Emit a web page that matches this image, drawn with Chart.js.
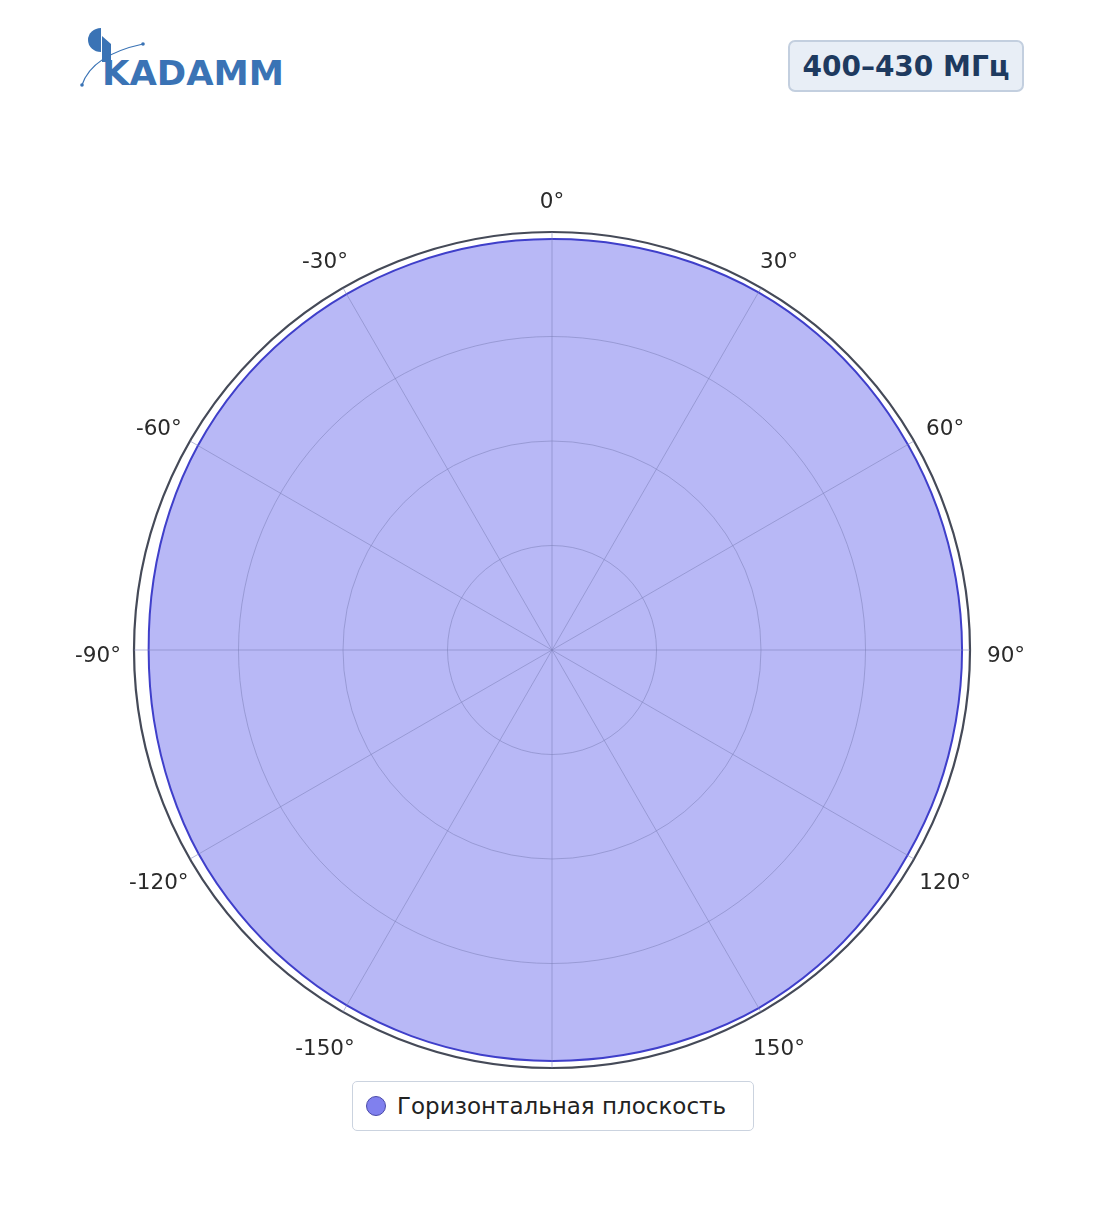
<!DOCTYPE html>
<html lang="ru">
<head>
<meta charset="utf-8">
<title>Диаграмма направленности 400–430 МГц</title>
<script src="https://cdn.jsdelivr.net/npm/chart.js@4.4.1/dist/chart.umd.min.js"></script>
<style>
  html, body { margin: 0; padding: 0; background: #fff; }
  body { width: 1104px; height: 1211px; position: relative; overflow: hidden; font-family: "DejaVu Sans", sans-serif; }
  #chart { position: absolute; left: 0; top: 0; }
  .logo { position: absolute; left: 0; top: 0; }
  .badge {
    position: absolute; left: 788px; top: 40px; width: 232px; height: 48px;
    border: 2px solid #c3cfdf; border-radius: 7px; background: #e8eef6;
    color: #1e3a5f; font-weight: bold; font-size: 28px;
    display: flex; align-items: center; justify-content: center;
  }
  .legend {
    position: absolute; left: 352px; top: 1081px; width: 400px; height: 48px;
    border: 1.5px solid #cbd3df; border-radius: 5px; background: #fff;
    display: flex; align-items: center; color: #222; font-size: 23px;
  }
  .legend .mark {
    width: 18px; height: 18px; border-radius: 50%; background: #8080ee;
    border: 1px solid #4a4aa8; margin-left: 13px; margin-right: 11px;
  }
</style>
</head>
<body>
<svg class="logo" width="300" height="100" viewBox="0 0 300 100">
  <path d="M101 28 A13 12 0 0 0 101 52 Z" fill="#3a73b5"/>
  <path d="M102 36 L111 44 L111 62 L102 62 Z" fill="#3a73b5"/>
  <text x="102" y="85" font-family="DejaVu Sans" font-weight="bold" font-size="33"
        textLength="182" lengthAdjust="spacingAndGlyphs" fill="#3a73b5">KADAMM</text>
  <path d="M82 85 Q92 55 143 44" fill="none" stroke="#3a73b5" stroke-width="1.2"/>
  <circle cx="82" cy="85" r="1.8" fill="#3a73b5"/>
  <circle cx="143" cy="44" r="1.8" fill="#3a73b5"/>
</svg>
<div class="badge">400–430 МГц</div>
<canvas id="chart" width="1104" height="1211"></canvas>
<div class="legend"><span class="mark"></span><span>Горизонтальная плоскость</span></div>
<script>
  // angle of each sample, degrees, clockwise from top (plotly style -180..180)
  const thetaDeg = [0, 10, 20, 30, 40, 50, 60, 70, 80, 90, 100, 110, 120, 130, 140, 150, 160, 170,
    180, -170, -160, -150, -140, -130, -120, -110, -100, -90, -80, -70, -60, -50, -40, -30, -20, -10];
  // normalised gain, horizontal plane
  const gainHoriz = [0.983, 0.984, 0.986, 0.988, 0.987, 0.985, 0.983, 0.982, 0.981, 0.981, 0.981, 0.982,
    0.982, 0.985, 0.988, 0.989, 0.986, 0.984, 0.983, 0.983, 0.983, 0.982, 0.980, 0.978, 0.976, 0.971,
    0.967, 0.965, 0.968, 0.973, 0.978, 0.981, 0.982, 0.983, 0.983, 0.983];
  const tickAngles = [0, 30, 60, 90, 120, 150, -150, -120, -90, -60, -30];
  const tickLabels = ["0°", "30°", "60°", "90°", "120°", "150°", "-150°", "-120°", "-90°", "-60°", "-30°"];
  const radialTicks = [0, 0.25, 0.5, 0.75, 1];

  const GRID = "rgba(125,130,185,0.55)";
  const OUTER = "#454a58";

  const angleTickPlugin = {
    id: "angleTicks",
    afterDraw(chart) {
      const scale = chart.scales.r;
      const ctx = chart.ctx;
      ctx.save();
      ctx.font = '21.5px "DejaVu Sans"';
      ctx.fillStyle = "#2a2a2a";
      ctx.textAlign = "center";
      ctx.textBaseline = "middle";
      tickAngles.forEach((a, k) => {
        const i = thetaDeg.indexOf(a);
        const p = scale.getPointPosition(i, scale.drawingArea + 36);
        ctx.fillText(tickLabels[k], p.x, p.y + 6);
      });
      ctx.restore();
    },
  };

  new Chart(document.getElementById("chart"), {
    type: "radar",
    data: {
      labels: thetaDeg.map((a) => `${a}°`),
      datasets: [
        {
          label: "Горизонтальная плоскость",
          data: gainHoriz,
          borderColor: "#3f3fca",
          borderWidth: 2,
          backgroundColor: "rgba(113,113,237,0.5)",
          fill: true,
          pointRadius: 0,
          tension: 0.33,
        },
      ],
    },
    options: {
      responsive: false,
      animation: false,
      layout: { padding: { left: 134, right: 134, top: 232, bottom: 143 } },
      plugins: { legend: { display: false }, tooltip: { enabled: false } },
      scales: {
        r: {
          min: 0,
          max: 1,
          startAngle: 0,
          afterBuildTicks: (s) => { s.ticks = radialTicks.map((v) => ({ value: v })); },
          ticks: { display: false },
          pointLabels: { display: false },
          grid: {
            z: 1,
            circular: true,
            color: (c) => (c.tick && c.tick.value === 1 ? OUTER : GRID),
            lineWidth: (c) => (c.tick && c.tick.value === 1 ? 2.2 : 1),
          },
          angleLines: {
            display: true,
            color: GRID,
            lineWidth: (c) => (thetaDeg[c.index] % 30 === 0 ? 1 : 0),
          },
        },
      },
    },
    plugins: [angleTickPlugin],
  });
</script>
</body>
</html>
